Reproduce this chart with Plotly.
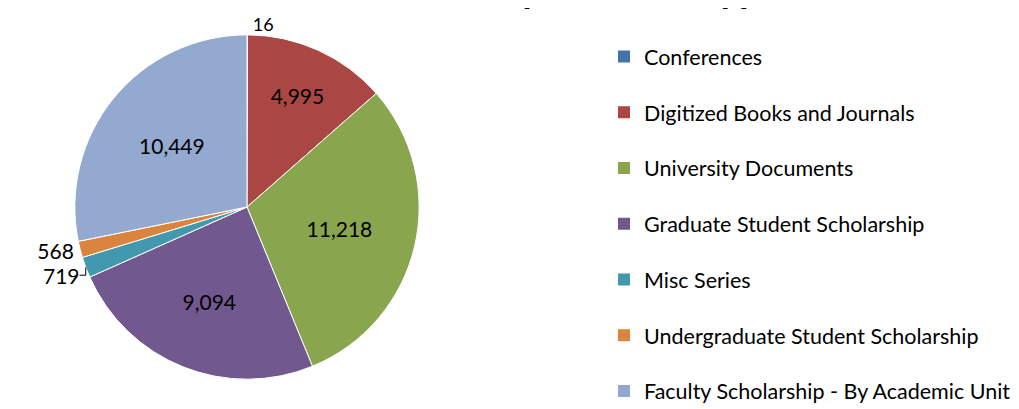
import plotly.graph_objects as go

categories = ["Conferences", "Digitized Books and Journals", "University Documents",
              "Graduate Student Scholarship", "Misc Series",
              "Undergraduate Student Scholarship", "Faculty Scholarship - By Academic Unit"]
downloads = [16, 4995, 11218, 9094, 719, 568, 10449]
colors = ["#4572A7", "#AA4643", "#89A54E", "#71588F", "#4198AF", "#DB843D", "#93A9CF"]
label_pos = ["outside", "inside", "inside", "inside", "outside", "outside", "inside"]
label_size = [18, 21, 21, 21, 21, 21, 21]
title_text = "Full Text Downloads by Content Type"

W, H = 1019, 409
FONT = "Lato"
cx, cy, r = 239, 198, 173

fig = go.Figure()
fig.add_trace(go.Pie(
    labels=categories, values=downloads, sort=False, direction="clockwise", rotation=0,
    marker=dict(colors=colors, line=dict(color="white", width=1)),
    texttemplate="%{value:,}", textposition=label_pos,
    insidetextorientation="horizontal",
    textfont=dict(family=FONT, size=label_size, color="black"),
    showlegend=False, hoverinfo="label+value",
    domain=dict(x=[(cx - r) / W, (cx + r) / W], y=[1 - (cy + r) / H, 1 - (cy - r) / H]),
))
for i, (c, col) in enumerate(zip(categories, colors)):
    fig.add_trace(go.Scatter(
        x=[None], y=[None], mode="markers", name=c, legendgroup=str(i),
        marker=dict(symbol="square", size=12, color=col),
        showlegend=True,
    ))

fig.update_layout(
    width=W, height=H, margin=dict(l=0, r=0, t=0, b=0),
    paper_bgcolor="white", plot_bgcolor="white",
    xaxis=dict(visible=False), yaxis=dict(visible=False),
    font=dict(family=FONT, color="black"),
    legend=dict(x=596 / W, y=5 / H, xanchor="left", yanchor="bottom",
                font=dict(family=FONT, size=21.5, color="black"),
                tracegroupgap=24.8, bgcolor="rgba(0,0,0,0)"),
    annotations=[dict(text="<b>" + title_text + "</b>", x=452 / W, y=1 - 3 / H,
                      xref="paper", yref="paper", xanchor="center", yanchor="bottom",
                      showarrow=False, font=dict(family=FONT, size=39, color="black"))],
)
fig.write_html("out.html")
